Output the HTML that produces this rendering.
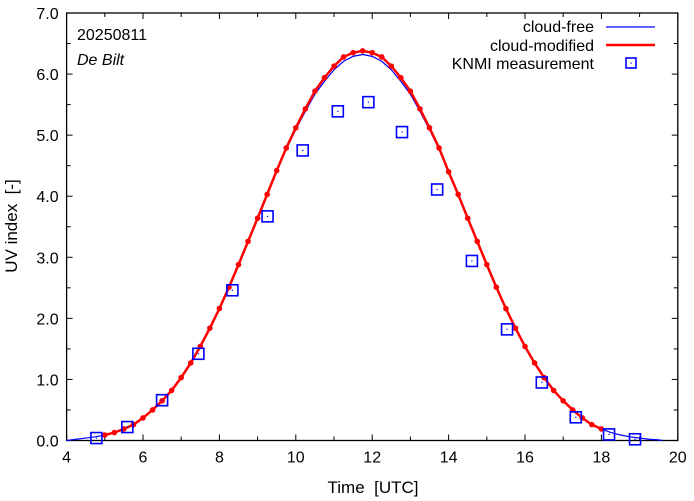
<!DOCTYPE html>
<html><head><meta charset="utf-8"><style>
body{margin:0;background:#fff}
svg{display:block;font-family:"Liberation Sans",sans-serif}
</style></head><body>
<svg id="chart" width="694" height="501" viewBox="0 0 694 501">
<g id="grid"></g>
<g id="series"></g>
<text x="77" y="40" font-size="16">20250811</text>
<text x="77" y="65" font-size="16" font-style="italic">De Bilt</text>
<g>
<g><text x="594" y="32" font-size="16" text-anchor="end">cloud-free</text><line x1="606" y1="27" x2="655" y2="27" stroke="#0000ff" stroke-width="1.2"/></g>
<g><text x="594" y="51" font-size="16" text-anchor="end">cloud-modified</text><line x1="606" y1="45" x2="655" y2="45" stroke="#ff0000" stroke-width="2.5"/></g>
<g><text x="594" y="69" font-size="16" text-anchor="end">KNMI measurement</text><rect x="626" y="58" width="10" height="10" fill="none" stroke="#0000ff" stroke-width="1.6"/><rect x="630.5" y="62.5" width="1.2" height="1.2" fill="#0000ff"/></g>
</g>
<text x="373" y="493" font-size="17" text-anchor="middle">Time&#160;&#160;[UTC]</text>
<text transform="translate(17,226) rotate(-90)" font-size="17" text-anchor="middle">UV index&#160;&#160;[-]</text>
</svg>
<script>
const xTicks=[4,6,8,10,12,14,16,18,20];
const yTicks=[0,1,2,3,4,5,6,7];
const freeT=[4.0,4.25,4.5,4.75,5.0,5.25,5.5,5.75,6.0,6.25,6.5,6.75,7.0,7.25,7.5,7.75,8.0,8.25,8.5,8.75,9.0,9.25,9.5,9.75,10.0,10.25,10.5,10.75,11.0,11.25,11.5,11.75,12.0,12.25,12.5,12.75,13.0,13.25,13.5,13.75,14.0,14.25,14.5,14.75,15.0,15.25,15.5,15.75,16.0,16.25,16.5,16.75,17.0,17.25,17.5,17.75,18.0,18.25,18.5,18.75,19.0,19.25,19.5,19.6];
const freeV=[0.0,0.02,0.04,0.06,0.09,0.13,0.19,0.26,0.37,0.50,0.65,0.82,1.03,1.27,1.54,1.84,2.16,2.51,2.88,3.26,3.64,4.03,4.41,4.77,5.09,5.39,5.67,5.88,6.07,6.21,6.29,6.32,6.29,6.21,6.07,5.88,5.67,5.39,5.09,4.77,4.41,4.03,3.64,3.26,2.88,2.51,2.16,1.84,1.54,1.27,1.03,0.82,0.65,0.50,0.37,0.26,0.19,0.13,0.09,0.06,0.04,0.02,0.01,0.0];
const modT=[5.0,5.25,5.5,5.75,6.0,6.25,6.5,6.75,7.0,7.25,7.5,7.75,8.0,8.25,8.5,8.75,9.0,9.25,9.5,9.75,10.0,10.25,10.5,10.75,11.0,11.25,11.5,11.75,12.0,12.25,12.5,12.75,13.0,13.25,13.5,13.75,14.0,14.25,14.5,14.75,15.0,15.25,15.5,15.75,16.0,16.25,16.5,16.75,17.0,17.25,17.5,17.75,18.0];
const modV=[0.09,0.13,0.19,0.26,0.37,0.50,0.65,0.82,1.03,1.27,1.54,1.84,2.16,2.51,2.88,3.26,3.64,4.03,4.42,4.79,5.12,5.43,5.72,5.94,6.13,6.28,6.35,6.38,6.35,6.28,6.13,5.94,5.72,5.43,5.12,4.79,4.40,4.03,3.64,3.26,2.88,2.51,2.16,1.84,1.54,1.27,1.03,0.82,0.65,0.50,0.37,0.26,0.19];
const measT=[4.78,5.59,6.5,7.45,8.34,9.26,10.18,11.1,11.9,12.78,13.7,14.61,15.53,16.44,17.33,18.2,18.88];
const measV=[0.04,0.22,0.66,1.42,2.46,3.67,4.75,5.39,5.54,5.05,4.11,2.94,1.82,0.95,0.38,0.10,0.02];

const L=66.6,R=677.8,T=13,B=440.5;
const sx=t=>L+(t-4)/16*(R-L);
const sy=v=>B-v/7*(B-T);
const NS='http://www.w3.org/2000/svg';
function mk(tag,attrs,parent){const e=document.createElementNS(NS,tag);for(const k in attrs)e.setAttribute(k,attrs[k]);parent.appendChild(e);return e;}
const g=document.getElementById('grid'),s=document.getElementById('series');
const frame=mk('rect',{x:L,y:T,width:R-L,height:B-T,fill:'none',stroke:'#000','stroke-width':1.3},g);


for(let t=4;t<=20;t++){const x=sx(t),len=(t%2===0)?6:4;
 mk('line',{x1:x,y1:B,x2:x,y2:B-len,stroke:'#000'},g);mk('line',{x1:x,y1:T,x2:x,y2:T+len,stroke:'#000'},g);}
xTicks.forEach(t=>{const e=mk('text',{x:sx(t),y:B+22,'font-size':16,'text-anchor':'middle'},g);e.textContent=t;
 
 });
for(let v=0;v<=7;v+=0.5){const y=sy(v),len=(v%1===0)?6:4;
 mk('line',{x1:L,y1:y,x2:L+len,y2:y,stroke:'#000'},g);mk('line',{x1:R,y1:y,x2:R-len,y2:y,stroke:'#000'},g);}
yTicks.forEach(v=>{const e=mk('text',{x:L-8,y:sy(v)+6,'font-size':16,'text-anchor':'end'},g);e.textContent=v.toFixed(1);
 
 });
const fl=mk('polyline',{points:freeT.map((t,i)=>sx(t)+','+sy(freeV[i])).join(' '),fill:'none',stroke:'#0000ff','stroke-width':1.2},s);


const ml=mk('polyline',{points:modT.map((t,i)=>sx(t)+','+sy(modV[i])).join(' '),fill:'none',stroke:'#ff0000','stroke-width':2.5},s);


modT.forEach((t,i)=>{const c=mk('circle',{cx:sx(t),cy:sy(modV[i]),r:2.8,fill:'#ff0000'},s);
 
 });
measT.forEach((t,i)=>{const x=sx(t),y=sy(measV[i]);
 const r=mk('rect',{x:x-5.5,y:y-5.5,width:11,height:11,fill:'none',stroke:'#0000ff','stroke-width':1.6},s);
 
 
 mk('rect',{x:x-0.6,y:y-0.6,width:1.2,height:1.2,fill:'#0000ff'},s);});
</script>
</body></html>
